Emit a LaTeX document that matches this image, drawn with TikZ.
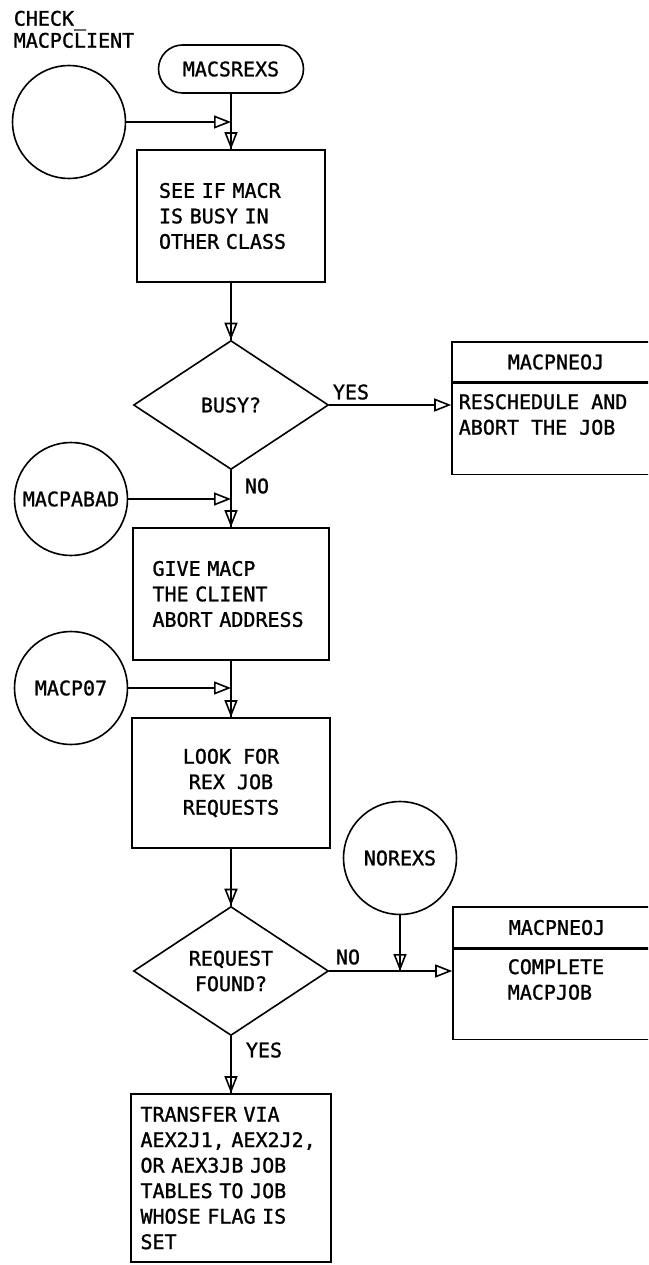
\documentclass[tikz,border=0pt]{standalone}
\usepackage{fontspec}
\setmainfont[WordSpace={1,0,0}, FakeBold=1.2]{DejaVu Sans Mono}
\usetikzlibrary{arrows.meta,shapes.geometric}

\begin{document}
\begin{tikzpicture}[x=1pt,y=-1pt,
  line width=1.6pt,
  every node/.style={font=\fontsize{20}{25.5}\selectfont, inner sep=0pt},
  box/.style={draw, rectangle},
  term/.style={draw, rectangle, rounded corners=24pt, minimum width=145pt, minimum height=48pt},
  conn/.style={draw, circle, minimum size=113pt},
  decision/.style={draw, diamond, aspect=1.5, minimum width=195pt, minimum height=129pt, align=center},
  flow/.style={-{Triangle[open, length=17pt, width=13pt]}}]

\useasboundingbox (0,0) rectangle (648,1265);
\clip (0,0) rectangle (648,1265);

% entry points
\node[anchor=north west, align=left, font=\fontsize{20}{22}\selectfont] (checklbl) at (13,10) {CHECK\_\\MACPCLIENT};
\node[conn] (check) at (69,122) {};
\node[term] (start) at (231,69) {MACSREXS};
\coordinate (j1) at (231,122);

% first check
\node[box, minimum width=188pt, minimum height=132pt, text width=144pt, align=left] (see) at (231,216)
  {SEE IF MACR\\IS BUSY IN\\OTHER CLASS};
\node[decision] (busy) at (231,405) {BUSY?};

% reschedule exit
\node[box, minimum width=208pt, minimum height=40pt] (nh1) at (556,362) {MACPNEOJ};
\node[box, minimum width=208pt, minimum height=91pt, anchor=north] (nb1) at (nh1.south) {};
\node[anchor=west, align=left] (nt1) at (458,414.5) {RESCHEDULE AND\\ABORT THE JOB};

% abort address
\node[conn] (abad) at (71,499) {MACPABAD};
\coordinate (j2) at (231,499);
\node[box, minimum width=196pt, minimum height=132pt, text width=157pt, align=left] (give) at (231,594)
  {GIVE MACP\\THE CLIENT\\ABORT ADDRESS};

% request search
\node[conn] (p07) at (71,688) {MACP07};
\coordinate (j3) at (231,688);
\node[box, minimum width=198pt, minimum height=130pt, align=center] (look) at (231,783)
  {LOOK FOR\\REX JOB\\REQUESTS};
\node[decision] (req) at (231,971) {REQUEST\\FOUND?};

% completion exit
\node[conn] (norexs) at (400,858) {NOREXS};
\node[box, minimum width=208pt, minimum height=41pt] (nh2) at (557,927.5) {MACPNEOJ};
\node[box, minimum width=208pt, minimum height=90pt, anchor=north] (nb2) at (nh2.south) {};
\node[anchor=west, align=left] (nt2) at (507,979.5) {COMPLETE\\MACPJOB};
\coordinate (j4) at (norexs.south |- req.east);

% transfer
\node[box, minimum width=200pt, minimum height=168pt, text width=181pt, align=left] (xfer) at (231,1178)
  {TRANSFER VIA\\AEX2J1, AEX2J2,\\OR AEX3JB JOB\\TABLES TO JOB\\WHOSE FLAG IS\\SET};

% branch labels
\node (yes1) at (351,392) {YES};
\node (no1) at (257,486) {NO};
\node (no2) at (348,957) {NO};
\node (yes2) at (264,1050) {YES};

% connectors
\draw (start) -- (see);
\draw[flow] (start) -- (see);
\draw[flow] (check) -- (j1);
\draw (see) -- (busy);
\draw[flow] (see) -- (busy);
\draw[flow] (busy.east) -- (busy.east -| nb1.west);
\draw (busy) -- (give);
\draw[flow] (busy) -- (give);
\draw[flow] (abad) -- (j2);
\draw (give) -- (look);
\draw[flow] (give) -- (look);
\draw[flow] (p07) -- (j3);
\draw (look) -- (req);
\draw[flow] (look) -- (req);
\draw[flow] (req.east) -- (req.east -| nb2.west);
\draw (norexs) -- (j4);
\draw[flow] (norexs) -- (j4);
\draw (req) -- (xfer);
\draw[flow] (req) -- (xfer);
\end{tikzpicture}
\end{document}
